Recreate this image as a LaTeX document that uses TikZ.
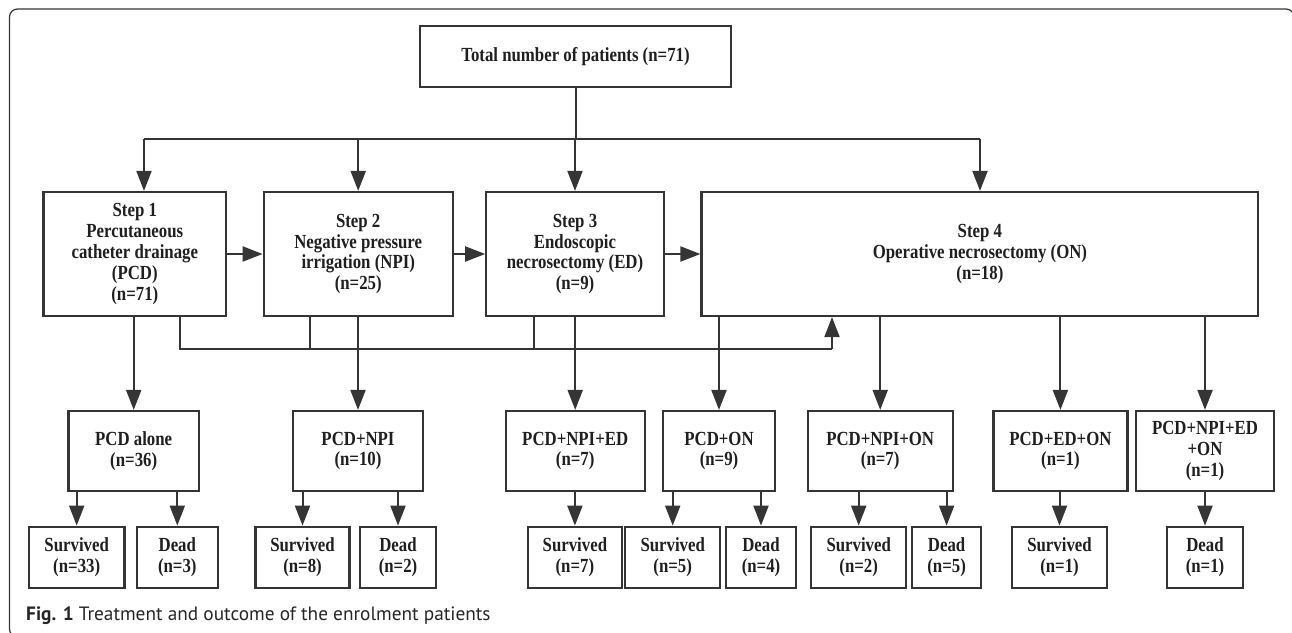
\documentclass[tikz,border=0pt]{standalone}
\usepackage{fontspec}
\newfontfamily\boxfont{Liberation Serif Bold}[FakeStretch=0.84]
\newfontfamily\capfont{PT Sans}
\usetikzlibrary{arrows.meta}
\definecolor{linegray}{HTML}{353535}
\tikzset{
  box/.style={draw=linegray, line width=2.2pt, align=center, text=black!88, inner sep=0pt,
    font=\boxfont\fontsize{20}{20.8}\selectfont},
  stepbox/.style={box, minimum height=124pt},
  midbox/.style={box, minimum height=80pt},
  endbox/.style={box, minimum height=61.6pt},
  ln/.style={draw=linegray, line width=2pt},
  arr/.style={ln, -{Triangle[length=20pt,width=15pt]}}
}
\begin{document}
\begin{tikzpicture}[x=1pt,y=-1pt]
  \useasboundingbox (0,0) rectangle (1292,632);
  \clip (0,0) rectangle (1292,632);
  \draw[linegray, line width=1.2pt, rounded corners=8pt] (9.5,9) rectangle (1294,637);

  % top
  \node[box, minimum width=311pt, minimum height=61pt] (total) at (575.5,56.5) {Total number of patients (n=71)};

  % steps
  \node[stepbox, minimum width=182.5pt] (step1) at (134.8,254) {Step 1\\Percutaneous\\catheter drainage\\(PCD)\\(n=71)};
  \node[stepbox, minimum width=189pt] (step2) at (358.2,254) {Step 2\\Negative pressure\\irrigation (NPI)\\(n=25)};
  \node[stepbox, minimum width=177.4pt] (step3) at (575,254) {Step 3\\Endoscopic\\necrosectomy (ED)\\(n=9)};
  \node[stepbox, minimum width=556.8pt] (step4) at (979.9,254) {Step 4\\Operative necrosectomy (ON)\\(n=18)};

  % treatments
  \node[midbox, minimum width=130.6pt] (pcd) at (133.7,451) {PCD alone\\(n=36)};
  \node[midbox, minimum width=130.6pt] (pcdnpi) at (358,451) {PCD+NPI\\(n=10)};
  \node[midbox, minimum width=139pt] (pcdnpied) at (575.2,451) {PCD+NPI+ED\\(n=7)};
  \node[midbox, minimum width=112pt] (pcdon) at (719,451) {PCD+ON\\(n=9)};
  \node[midbox, minimum width=145pt] (pcdnpion) at (880.2,451) {PCD+NPI+ON\\(n=7)};
  \node[midbox, minimum width=134pt] (pcdedon) at (1060.4,451) {PCD+ED+ON\\(n=1)};
  \node[midbox, minimum width=138pt] (pcdall) at (1205,451) {PCD+NPI+ED\\+ON\\(n=1)};

  % outcomes
  \node[endbox, minimum width=95.4pt] (s33) at (76.7,557.5) {Survived\\(n=33)};
  \node[endbox, minimum width=81pt] (d3) at (177.3,557.5) {Dead\\(n=3)};
  \node[endbox, minimum width=94pt] (s8) at (302.5,557.5) {Survived\\(n=8)};
  \node[endbox, minimum width=76.3pt] (d2) at (398,557.5) {Dead\\(n=2)};
  \node[endbox, minimum width=94pt] (s7) at (574.9,557.5) {Survived\\(n=7)};
  \node[endbox, minimum width=95pt] (s5) at (672.7,557.5) {Survived\\(n=5)};
  \node[endbox, minimum width=70pt] (d4) at (761,557.5) {Dead\\(n=4)};
  \node[endbox, minimum width=95pt] (s2) at (858.7,557.5) {Survived\\(n=2)};
  \node[endbox, minimum width=68.7pt] (d5) at (946.6,557.5) {Dead\\(n=5)};
  \node[endbox, minimum width=95pt] (s1) at (1059.5,557.5) {Survived\\(n=1)};
  \node[endbox, minimum width=76pt] (d1) at (1205,557.5) {Dead\\(n=1)};

  % from total to the steps
  \coordinate (b1) at (144,139);
  \coordinate (b4) at (980,139);
  \draw[ln] (total.south) -- (total.south |- b1);
  \draw[ln] (b1) -- (b4);
  \draw[arr] (b1) -- (b1 |- step1.north);
  \draw[arr] (step2.north |- b1) -- (step2.north);
  \draw[arr] (step3.north |- b1) -- (step3.north);
  \draw[arr] (b4) -- (b4 |- step4.north);

  % step to step
  \draw[arr] (step1) -- (step2);
  \draw[arr] (step2) -- (step3);
  \draw[arr] (step3) -- (step4);

  % steps to treatments
  \draw[arr] (pcd.north |- step1.south) -- (pcd.north);
  \draw[arr] (pcdnpi.north |- step2.south) -- (pcdnpi.north);
  \draw[arr] (pcdnpied.north |- step3.south) -- (pcdnpied.north);
  \foreach \t in {pcdon,pcdnpion,pcdedon,pcdall}
    \draw[arr] (\t.north |- step4.south) -- (\t.north);

  % way back up to step 4
  \coordinate (f1) at (180,349);
  \coordinate (f2) at (310,349);
  \coordinate (f3) at (534,349);
  \coordinate (f4) at (832,349);
  \draw[ln] (f1 |- step1.south) -- (f1) -- (f4);
  \draw[ln] (f2 |- step2.south) -- (f2);
  \draw[ln] (f3 |- step3.south) -- (f3);
  \draw[arr] (f4) -- (f4 |- step4.south);

  % treatments to outcomes
  \foreach \a/\b in {pcd/s33,pcd/d3,pcdnpi/s8,pcdnpi/d2,pcdnpied/s7,pcdon/s5,pcdon/d4,
                     pcdnpion/s2,pcdnpion/d5,pcdedon/s1,pcdall/d1}
    \draw[arr] (\b.north |- \a.south) -- (\b.north);

  % caption
  \node[anchor=base west, inner sep=0pt, text=black!85, font=\capfont\fontsize{19.3}{22}\selectfont] (cap) at (26,620)
    {\textbf{Fig. 1} Treatment and outcome of the enrolment patients};
\end{tikzpicture}
\end{document}
